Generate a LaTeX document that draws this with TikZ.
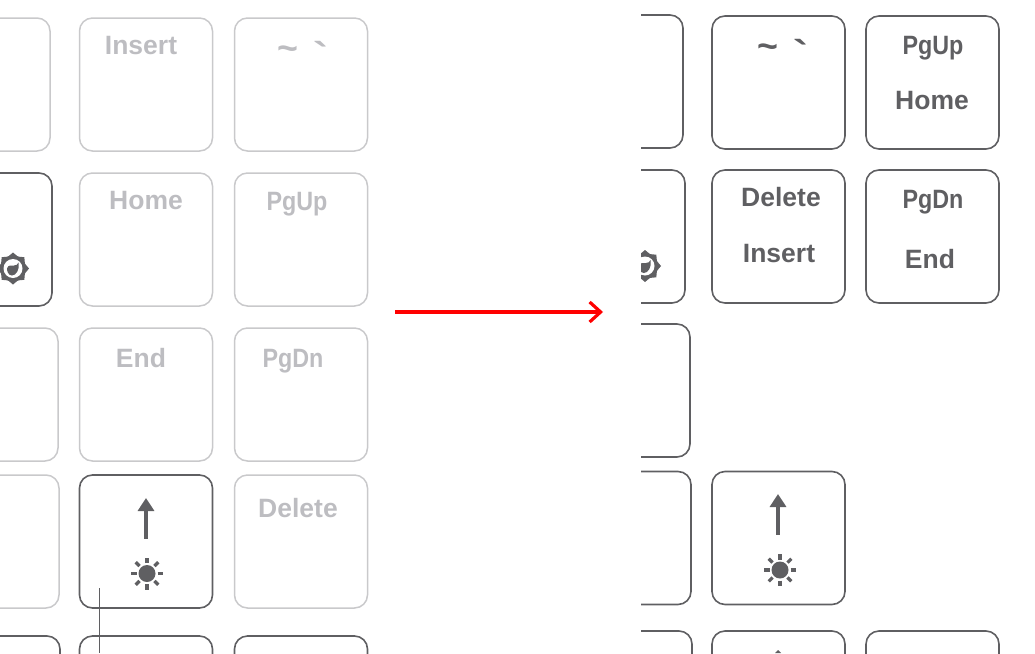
\documentclass[tikz,border=0pt]{standalone}
\usepackage{fontspec}
\usetikzlibrary{arrows.meta}
\newfontfamily\keyfont{Liberation Sans}
\newfontfamily\pagefont[FakeStretch=0.88]{Liberation Sans}
\definecolor{keydark}{HTML}{5F5F62}
\definecolor{keylight}{HTML}{C9C9CB}
\definecolor{textlight}{HTML}{BDBDC1}
\tikzset{
  lightkey/.style={draw=keylight,line width=1.5pt,rounded corners=13pt,minimum size=133pt,inner sep=0pt},
  darkkey/.style={draw=keydark,line width=1.6pt,rounded corners=13pt,minimum size=133pt,inner sep=0pt},
  lightcap/.style={text=textlight,font=\keyfont\fontsize{26.5}{26.5}\selectfont\bfseries,inner sep=0pt},
  darkcap/.style={text=keydark,font=\keyfont\fontsize{26.5}{26.5}\selectfont\bfseries,inner sep=0pt},
  lightpage/.style={text=textlight,font=\pagefont\fontsize{26.5}{26.5}\selectfont\bfseries,inner sep=0pt},
  darkpage/.style={text=keydark,font=\pagefont\fontsize{26.5}{26.5}\selectfont\bfseries,inner sep=0pt},
  uparrow/.style={draw=keydark,line width=4pt,-{Triangle[length=13pt,width=16pt]}},
  redarrow/.style={draw=red,line width=3.2pt,-{Straight Barb[length=11pt,width=20pt,line width=3.2pt]}}
}
\newcommand{\tildecap}{\scalebox{1.35}{\char126}}
\newcommand{\gravecap}{\scalebox{1.7}[1.4]{\char96}}
% sun with rays
\newcommand{\brightsun}[1]{
  \fill[keydark] (#1) circle (8.5);
  \foreach \ang in {0,45,...,315}
    \draw[keydark,line width=3.2pt] (#1) ++(\ang:10.5) -- ++(\ang:5.5);
}
% sun with moon in it
\newcommand{\dimsun}[1]{
  \begin{scope}[shift={(#1)}]
  \fill[keydark] (0,0) circle (13);
  \foreach \ang in {0,45,...,315}
    \fill[keydark,rotate=\ang] (16,0) -- (11,6) -- (11,-6) -- cycle;
  \fill[white] (0,0) circle (9.5);
  \fill[keydark] (5.5,-6) .. controls (7,1) and (3,7) .. (-1,7)
    .. controls (-5,7) and (-6,2) .. (-6,0)
    .. controls (-5,-4) and (-1,-3) .. (1,-3)
    .. controls (3,-3) and (5,-4) .. (5.5,-6) -- cycle;
  \end{scope}
}
\begin{document}
\begin{tikzpicture}[x=1pt,y=-1pt]
    \useasboundingbox (0,0) rectangle (1035,653);
    \clip (0,0) rectangle (1035,653);
    % left hand keyboard
    \foreach \pos/\name in {{(-16.5,84.5)/la},{(146,84.5)/lb},{(301,84.5)/lc},
        {(146,239.5)/ld},{(301,239.5)/le},{(-8.5,394.5)/lf},{(146,394.5)/lg},
        {(301,394.5)/lh},{(-7.5,541.5)/li},{(301,541.5)/lj}}
        \node[lightkey] (\name) at \pos {};
    \foreach \pos/\name in {{(-14.5,239.5)/lk},{(146,541.5)/ll},{(-6.5,702.5)/lm},
        {(146,702.5)/ln},{(301,702.5)/lo}}
        \node[darkkey] (\name) at \pos {};
    \foreach \pos/\name/\word in {{(141,46)/capa/Insert},{(146,201)/capb/Home},
        {(141,358)/capd/End},{(298,508)/capf/Delete},
        {(288,53)/capg/\tildecap},{(321,55)/caph/\gravecap}}
        \node[lightcap] (\name) at \pos {\word};
    \foreach \pos/\name/\word in {{(297,204)/capc/PgUp},{(293,361)/cape/PgDn}}
        \node[lightpage] (\name) at \pos {\word};
    \dimsun{13,268.5}
    \coordinate (ltail) at (146,538.5);
    \coordinate (lhead) at (146,498);
    \path[uparrow] (ltail) -- (lhead);
    \brightsun{147,573.5}
    \coordinate (leadtop) at (99.5,588);
    \coordinate (leadend) at (99.5,653);
    \draw[keydark,line width=1.3pt] (leadtop) -- (leadend);
    % arrow between them
    \coordinate (redtail) at (395,312);
    \coordinate (redhead) at (603,312);
    \path[redarrow] (redtail) -- (redhead);
    % right hand keyboard
    \begin{scope}
    \clip (641,0) rectangle (1035,653);
    \foreach \pos/\name in {{(616.5,81.5)/ra},{(778.5,82.5)/rb},{(932.5,82.5)/rc},
        {(618.5,236.5)/rd},{(778.5,236.5)/re},{(932.5,236.5)/rf},{(623.5,390.5)/rg},
        {(624.5,538)/rh},{(778.5,538)/ri},{(625.5,697.5)/rj},{(778.5,697.5)/rk},{(932.5,697.5)/rl}}
        \node[darkkey] (\name) at \pos {};
    \dimsun{645,266}
    \end{scope}
    \foreach \pos/\name/\word in {{(768,51.5)/capi/\tildecap},{(801,52.5)/capj/\gravecap},
        {(932,101)/capl/Home},{(781,197)/capm/Delete},{(779,254)/capn/Insert},
        {(930,259)/capp/End}}
        \node[darkcap] (\name) at \pos {\word};
    \foreach \pos/\name/\word in {{(933,48)/capk/PgUp},{(933,202)/capo/PgDn}}
        \node[darkpage] (\name) at \pos {\word};
    \coordinate (rtail) at (778,534.5);
    \coordinate (rhead) at (778,494);
    \path[uparrow] (rtail) -- (rhead);
    \brightsun{780,570}
    \fill[keydark] (778,650) -- (775,653) -- (781,653) -- cycle;
\end{tikzpicture}
\end{document}
